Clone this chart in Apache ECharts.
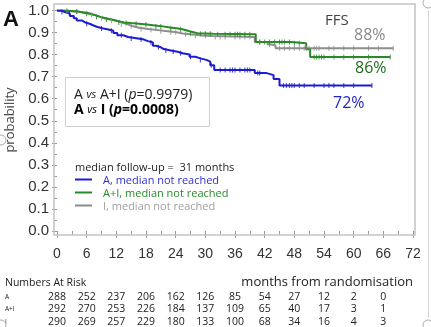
<!DOCTYPE html>
<html><head><meta charset="utf-8">
<script src="https://cdn.jsdelivr.net/npm/echarts@6/dist/echarts.min.js"></script>
<style>html,body{margin:0;padding:0;background:#fff;overflow:hidden}#c{width:431px;height:327px}</style>
</head><body><div id="c"></div>
<script>
// ---- data ----
const xTickLabels = ['0','6','12','18','24','30','36','42','48','54','60','66','72'];
const yTickLabels = ['0.0','0.1','0.2','0.3','0.4','0.5','0.6','0.7','0.8','0.9','1.0'];

const timesA = [0,0.8,1.6,2.6,3.4,4.0,5.0,5.6,6.6,7.4,8.2,9.4,10.4,11.4,12.2,13.4,14.4,16.4,17.6,18.4,19.4,20.0,21.0,21.6,23.0,24.4,25.4,26.8,28.0,29.0,30.2,31.0,31.8,40.0,42.4,43.8,45.0,63.7];
const survA  = [1.000,0.993,0.986,0.975,0.965,0.955,0.947,0.940,0.932,0.925,0.918,0.914,0.908,0.898,0.888,0.880,0.873,0.868,0.861,0.855,0.840,0.833,0.825,0.819,0.813,0.806,0.800,0.790,0.783,0.776,0.768,0.752,0.730,0.716,0.707,0.689,0.660,0.660];

const timesAI = [0,1.5,3.0,4.4,5.4,6.6,7.8,8.8,10.0,11.2,12.2,13.6,15.0,16.6,18.2,19.8,21.4,22.8,24.2,25.6,26.8,28.4,31.6,40.2,47.4,50.4,51.2,67.4];
const survAI  = [1.000,0.998,0.995,0.990,0.985,0.978,0.971,0.964,0.958,0.952,0.946,0.943,0.940,0.936,0.932,0.928,0.923,0.919,0.914,0.906,0.897,0.894,0.892,0.857,0.851,0.824,0.789,0.789];

const timesI = [0,1.5,3.0,4.5,5.8,6.8,7.6,8.6,9.6,10.8,12.0,13.0,14.2,15.2,16.6,18.4,20.4,22.4,24.2,25.4,27.0,29.4,31.4,40.0,42.6,43.4,44.2,68.0];
const survI  = [1.000,0.997,0.994,0.991,0.986,0.980,0.972,0.965,0.960,0.954,0.947,0.938,0.930,0.922,0.916,0.911,0.906,0.901,0.896,0.892,0.887,0.884,0.880,0.857,0.846,0.841,0.829,0.829];

const censorA  = [1,2.5,6,9,11,13,15,17,19,20.5,22,23.5,25,27,29,31.2,33,34,35,35.5,36,37,38,38.5,39,40.6,41,45.8,46.4,47,47.5,48,49,50,52,54,55,56,58,60,63.7];
const censorAI = [2,4,6,8,10,12.5,14,16,18,20,21,23,25,27,29,30,31,32.5,34,35,36,36.5,37,38,39,41,42,43,44,45,45.5,46,47,48,49,52,52.5,53,53.5,54,56,58,60,63,67.4];
const censorI  = [2,4,7,9,11,13,15,17,19,21,23,24,26,28,30,32,33,34,36,37,38,39,41,43,45,46,47,48,49,50,50.5,51,52,52.5,53,55,56,58,60,63,65,68];

const riskTimes = [0,6,12,18,24,30,36,42,48,54,60,66];
const riskA  = [288,252,237,206,162,126,85,54,27,12,2,0];
const riskAI = [292,270,253,226,184,137,109,65,40,17,3,1];
const riskI  = [290,269,257,229,180,133,100,68,34,16,4,3];

const seriesNames = ['A','A+I','I'];
const legendTexts = ['A, median not reached','A+I, median not reached','I, median not reached'];
const endLabels = ['72%','86%','88%'];

// ---- styles ----
const colA = '#1c1cd2', colAI = '#2a8a2a', colI = '#8e8e8e';
const tickFont = 'Liberation Sans, Arial, sans-serif';
const txtFont = 'Open Sans, sans-serif';

function zip(t, s){ return t.map((x,i)=>[x, s[i]]); }
function lookup(t, s, x){ let v = s[0]; for (let i=0;i<t.length;i++){ if (t[i] <= x) v = s[i]; } return v; }
function censorData(c, t, s){ return c.map(x => [x, lookup(t, s, x)]); }

const chart = echarts.init(document.getElementById('c'), null, {renderer:'canvas'});

function kmLine(name, t, s, col){
  return {type:'line', name, step:'end', data: zip(t,s), showSymbol:false, symbol:'none',
    lineStyle:{color:col, width:2}, animation:false, z:3};
}
function censor(name, c, t, s, col){
  return {type:'scatter', name:name+'c', data: censorData(c,t,s), symbol:'rect', symbolSize:[1,5],
    itemStyle:{color:col, opacity:0.85}, animation:false, z:4, silent:true};
}

chart.setOption({
  animation:false,
  grid:{left:57, top:10.5, width:356, height:220.5, containLabel:false},
  xAxis:{type:'value', min:0, max:72, interval:6, offset:4,
    axisLine:{show:false},
    axisTick:{show:true, length:7, lineStyle:{color:'#999', width:1}},
    minorTick:{show:true, splitNumber:2, length:3.5, lineStyle:{color:'#999', width:1}},
    axisLabel:{fontSize:14, color:'#333', fontFamily:tickFont, margin:12,
      formatter:(v)=> xTickLabels[Math.round(v/6)]},
    splitLine:{show:false}},
  yAxis:{type:'value', min:0, max:1, interval:0.1, offset:3,
    axisLine:{show:false},
    axisTick:{show:true, length:5, lineStyle:{color:'#999', width:1}},
    minorTick:{show:true, splitNumber:2, length:3, lineStyle:{color:'#999', width:1}},
    axisLabel:{fontSize:15, color:'#333', fontFamily:tickFont, margin:5,
      formatter:(v)=> yTickLabels[Math.round(v*10)]},
    splitLine:{show:false}},
  series:[
    kmLine('I', timesI, survI, colI),
    kmLine('A+I', timesAI, survAI, colAI),
    kmLine('A', timesA, survA, colA),
    censor('I', censorI, timesI, survI, colI),
    censor('A+I', censorAI, timesAI, survAI, colAI),
    censor('A', censorA, timesA, survA, colA)
  ]
});

// ---- graphics (text, frame, numbers at risk) ----
const g = [];
g.push({type:'rect', shape:{x:54, y:4, width:361, height:231}, style:{fill:'none', stroke:'#c4c4c4', lineWidth:1.5}, z:1});
g.push({type:'text', style:{text:'A', x:3, y:20, font:'bold 22px Liberation Sans, Arial, sans-serif', fill:'#111', verticalAlign:'middle'}});
g.push({type:'text', rotation:Math.PI/2, x:10, y:120, style:{text:'probability', x:0, y:0, font:'13px '+txtFont, fill:'#444', align:'center', verticalAlign:'middle'}});
// p-value box
g.push({type:'rect', shape:{x:65.5, y:77.5, width:144, height:49}, style:{fill:'#fff', stroke:'#cfcfcf', lineWidth:1}, z:5});
g.push({type:'text', z:6, style:{x:74, y:95, verticalAlign:'middle',
  text:'{n|A }{v|vs}{n| A+I (}{p|p}{n|=0.9979)}',
  rich:{n:{fontSize:14, fontFamily:txtFont, fill:'#222'}, v:{fontSize:11, fontStyle:'italic', fontFamily:txtFont, fill:'#222'}, p:{fontSize:14, fontStyle:'italic', fontFamily:txtFont, fill:'#222'}}}});
g.push({type:'text', z:6, style:{x:74, y:110, verticalAlign:'middle',
  text:'{n|A }{v|vs}{n| I (}{p|p}{n|=0.0008)}',
  rich:{n:{fontSize:14, fontWeight:'bold', fontFamily:txtFont, fill:'#000'}, v:{fontSize:11, fontStyle:'italic', fontFamily:txtFont, fill:'#000'}, p:{fontSize:14, fontWeight:'bold', fontStyle:'italic', fontFamily:txtFont, fill:'#000'}}}});
// FFS and end labels
g.push({type:'text', style:{text:'FFS', x:325, y:21, font:'15px '+txtFont, fill:'#444', verticalAlign:'middle'}});
g.push({type:'text', style:{text:endLabels[2], x:354, y:35, font:'16px '+txtFont, fill:'#8a8a8a', verticalAlign:'middle'}});
g.push({type:'text', style:{text:endLabels[1], x:355, y:68, font:'16px '+txtFont, fill:'#1f6e1f', verticalAlign:'middle'}});
g.push({type:'text', style:{text:endLabels[0], x:333, y:103, font:'16px '+txtFont, fill:'#2222cc', verticalAlign:'middle'}});
// legend
g.push({type:'text', style:{text:'median follow-up =  31 months', x:75, y:168, font:'11px '+txtFont, fill:'#222', verticalAlign:'middle'}});
const legCols = [colA, colAI, '#8a8a8a'];
const legTxtCols = ['#3030c8', '#2a8a2a', '#a0a0a0'];
const legY = [180, 193, 206];
for (let i=0;i<3;i++){
  g.push({type:'line', shape:{x1:75, y1:legY[i]-0.5, x2:92, y2:legY[i]-0.5}, style:{stroke:legCols[i], lineWidth:2}});
  g.push({type:'text', style:{text:legendTexts[i], x:103, y:legY[i]+1, font:'11px '+txtFont, fill:legTxtCols[i], verticalAlign:'middle'}});
}
// numbers at risk
g.push({type:'text', style:{text:'Numbers At Risk', x:5, y:283, font:'10.5px '+txtFont, fill:'#222', verticalAlign:'middle'}});
g.push({type:'text', style:{text:'months from randomisation', x:413, y:282, font:'13px '+txtFont, fill:'#222', align:'right', verticalAlign:'middle'}});
const rows = [riskA, riskAI, riskI];
const rowY = [297, 309.5, 322];
for (let r=0;r<3;r++){
  g.push({type:'text', style:{text:seriesNames[r], x:5, y:rowY[r], font:'6.5px '+txtFont, fill:'#222', verticalAlign:'middle'}});
  for (let i=0;i<riskTimes.length;i++){
    const px = chart.convertToPixel({xAxisIndex:0}, riskTimes[i]);
    g.push({type:'text', style:{text:String(rows[r][i]), x:px, y:rowY[r], font:'10.5px '+txtFont, fill:'#222', align:'center', verticalAlign:'middle'}});
  }
}
// selection handles / outer frame
g.push({type:'line', shape:{x1:428.5, y1:10, x2:428.5, y2:318}, style:{stroke:'#d8d8d8', lineWidth:1}});
const handles = [[428,3],[1,140],[1,325],[428,325]];
handles.forEach(h => g.push({type:'circle', shape:{cx:h[0], cy:h[1], r:5}, style:{fill:'#fff', stroke:'#aaa', lineWidth:1}}));
chart.setOption({graphic:g});
</script>
</body></html>
